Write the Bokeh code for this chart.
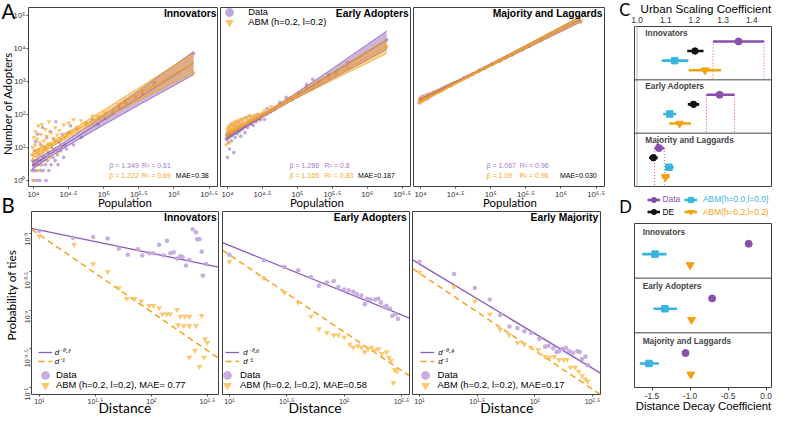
import math
from bokeh.plotting import figure
from bokeh.models import (Range1d, FixedTicker, CustomJSTickFormatter, PrintfTickFormatter,
                          Label, Legend, LegendItem, Span, GridBox)
from bokeh.layouts import row, column
from bokeh.embed import file_html
from bokeh.resources import INLINE

# ===================== DATA =====================
# Panel A: cities (population) and number of adopters
city_population = [9550, 9770, 10000, 10120, 10230, 10470, 10590, 10720, 10960, 11220,
                   11350, 11480, 11750, 12020, 12300, 12590, 12730, 12880, 13180, 13490,
                   13800, 14130, 14450, 14790, 15140, 15490, 15850, 16220, 16600, 17380,
                   17780, 18200, 19050, 19500, 20420, 20890, 21880, 22390, 23440, 24550,
                   25700, 26920, 28180, 29510,
                   31620, 33880, 37150, 41690, 47860, 56230, 69180, 83180,
                   104700, 134900, 166000, 204200, 281800, 354800, 524800, 1905000]
innovators_data = [2, 4, 1, 3, 2, 8, 3, 15, 2, 1, 4, 25, 3, 6, 1, 2, 12, 4, 3, 40, 2, 5, 9, 3, 1,
                   20, 4, 7, 2, 30, 3, 10, 5, 18, 4, 60, 6, 3, 14, 8, 25, 5, 12, 9,
                   28, 45, 12, 35, 20, 55, 70, 50, 75, 105, 160, 230, 340, 420, 900, 6900]
innovators_abm = [6, 10, 1, 20, 4, 3, 12, 30, 8, 5, 18, 2, 45, 9, 14, 3, 25, 6, 50, 11, 7, 16, 4, 35,
                  10, 22, 8, 13, 60, 5, 28, 12, 19, 9, 40, 15, 24, 7, 33, 18, 11, 48, 20, 26,
                  55, 30, 70, 40, 65, 50, 90, 85, 110, 130, 200, 260, 330, 500, 700, 1800]
early_data = [18, 25, 5, 30, 14, 40, 22, 9, 35, 28, 16, 50, 24, 33, 7, 45, 30, 20, 55, 38, 26, 42,
              60, 31, 48, 22, 70, 36, 52, 44, 28, 80, 58, 40, 65, 90, 50, 72, 46, 85, 60, 100, 75, 68,
              95, 70, 150, 120, 160, 230, 330, 280, 450, 800, 1150, 1000, 1600, 1900, 3600, 18000]
early_abm = [12, 22, 35, 18, 40, 30, 45, 14, 38, 50, 33, 24, 55, 42, 36, 48, 29, 60, 40, 52, 35, 65,
             45, 58, 38, 70, 50, 62, 44, 75, 56, 48, 80, 66, 90, 58, 72, 85, 64, 95, 78, 70, 100, 88,
             110, 130, 105, 170, 140, 200, 260, 320, 380, 630, 600, 900, 1300, 1500, 2600, 11000]
majority_data = [220, 300, 250, 330, 240, 310, 260, 350, 270, 290, 360, 280, 340, 300, 390, 320, 300,
                 400, 340, 420, 350, 410, 380, 450, 400, 470, 420, 480, 440, 520, 470, 540, 510, 590,
                 560, 620, 600, 690, 650, 740, 720, 820, 790, 900,
                 950, 1000, 1050, 1300, 1400, 1650, 2200, 2500, 3300, 4100, 5300, 6300, 9200, 11300,
                 17800, 62000]
majority_abm = [250, 270, 230, 300, 260, 280, 320, 290, 310, 270, 340, 300, 320, 350, 310, 370, 330,
                360, 390, 350, 400, 380, 420, 390, 430, 450, 410, 470, 460, 480, 500, 490, 530, 560,
                540, 600, 590, 630, 680, 700, 760, 740, 800, 860,
                920, 980, 1100, 1200, 1450, 1700, 2100, 2600, 3300, 4200, 5200, 6500, 9000, 11800,
                18000, 64000]
# fitted scaling lines (log10 adopters) and confidence half-widths at these populations
fit_population = [9550, 17780, 39810, 100000, 316200, 1905000]
innovators_data_fit = [0.45, 0.82, 1.29, 1.83, 2.50, 3.55]
innovators_data_half = [0.12, 0.08, 0.10, 0.15, 0.22, 0.35]
innovators_abm_fit = [0.75, 1.08, 1.51, 2.00, 2.61, 3.56]
innovators_abm_half = [0.10, 0.07, 0.09, 0.13, 0.19, 0.30]
early_data_fit = [1.28, 1.63, 2.08, 2.59, 3.23, 4.24]
early_data_half = [0.07, 0.04, 0.05, 0.08, 0.15, 0.28]
early_abm_fit = [1.38, 1.70, 2.10, 2.57, 3.15, 4.06]
early_abm_half = [0.06, 0.035, 0.045, 0.07, 0.12, 0.22]
majority_data_fit = [2.41, 2.70, 3.07, 3.50, 4.03, 4.87]
majority_data_half = [0.03, 0.02, 0.025, 0.035, 0.05, 0.08]
majority_abm_fit = [2.38, 2.67, 3.05, 3.49, 4.04, 4.89]
majority_abm_half = [0.03, 0.02, 0.025, 0.035, 0.05, 0.08]
a_titles = ["Innovators", "Early Adopters", "Majority and Laggards"]
beta_data = ["1.349", "1.286", "1.067"]
r2_data = ["0.61", "0.8", "0.96"]
beta_abm = ["1.222", "1.165", "1.09"]
r2_abm = ["0.69", "0.83", "0.96"]
mae_a = ["0.38", "0.187", "0.030"]
a_x_ticks = [4, 4.5, 5, 5.5, 6, 6.5]
a_y_ticks = [0, 1, 2, 3, 4, 5]

# Panel B: probability of ties vs distance (log10 values)
b1_data_logd = [1.00, 1.30, 1.48, 1.61, 1.71, 1.79, 1.88, 1.92, 1.98, 2.02, 2.07, 2.11, 2.14, 2.17,
                2.20, 2.23, 2.26, 2.28, 2.31, 2.34, 2.37, 2.40, 2.41, 2.43, 2.45, 2.46, 2.49]
b1_data_logp = [-2.97, -3.06, -3.05, -3.07, -3.20, -3.28, -3.21, -3.29, -3.26, -3.26, -3.15, -3.29,
                -3.10, -3.26, -3.25, -3.33, -3.30, -3.31, -3.42, -3.35, -2.95, -2.99, -3.08, -3.08,
                -3.24, -3.55, -3.40]
b1_abm_logd = [1.00, 1.31, 1.48, 1.61, 1.71, 1.78, 1.85, 1.91, 1.98, 2.02, 2.07, 2.10, 2.14, 2.17,
               2.23, 2.26, 2.30, 2.34, 2.24, 2.29, 2.34, 2.40, 2.45, 2.48, 2.50, 2.39, 2.34, 2.47, 2.43]
b1_abm_logp = [-3.04, -3.15, -3.40, -3.50, -3.71, -3.85, -3.85, -3.88, -3.94, -3.94, -3.97, -4.05,
               -4.05, -4.05, -3.99, -4.08, -4.08, -4.08, -4.19, -4.20, -4.20, -4.20, -4.07, -4.37,
               -4.42, -4.52, -4.61, -4.61, -4.73]
b2_data_logd = [1.00, 1.30, 1.48, 1.60, 1.71, 1.78, 1.85, 1.91, 1.95, 2.00, 2.04, 2.08, 2.11, 2.15,
                2.18, 2.20, 2.23, 2.27, 2.30, 2.32, 2.35, 2.37, 2.40, 2.42, 2.45, 2.47]
b2_data_logp = [-3.28, -3.35, -3.44, -3.48, -3.57, -3.68, -3.64, -3.62, -3.70, -3.73, -3.74, -3.76,
                -3.79, -3.81, -3.92, -3.85, -3.86, -3.86, -3.85, -3.90, -3.96, -3.94, -3.98, -4.07,
                -4.05, -4.11]
b2_abm_logd = [1.00, 1.30, 1.48, 1.60, 1.71, 1.78, 1.85, 1.91, 1.95, 2.00, 2.05, 2.08, 2.12, 2.15,
               2.18, 2.21, 2.24, 2.27, 2.30, 2.33, 2.37, 2.39, 2.41, 2.44, 2.46, 2.43]
b2_abm_logp = [-3.37, -3.58, -3.77, -3.90, -4.08, -4.24, -4.29, -4.32, -4.32, -4.35, -4.44, -4.48,
               -4.46, -4.48, -4.54, -4.50, -4.48, -4.52, -4.50, -4.56, -4.54, -4.61, -4.65, -4.77,
               -4.79, -4.94]
b3_data_logd = [1.00, 1.30, 1.48, 1.61, 1.70, 1.78, 1.85, 1.91, 1.97, 2.04, 2.09, 2.12, 2.16, 2.19,
                2.21, 2.24, 2.27, 2.30, 2.33, 2.37, 2.39, 2.41, 2.44, 2.46]
b3_data_logp = [-3.37, -3.53, -3.71, -3.86, -4.06, -4.21, -4.23, -4.27, -4.29, -4.37, -4.47, -4.46,
                -4.49, -4.54, -4.53, -4.50, -4.49, -4.53, -4.55, -4.53, -4.54, -4.63, -4.60, -4.71]
b3_abm_logd = [1.00, 1.30, 1.48, 1.61, 1.70, 1.78, 1.85, 1.91, 1.97, 2.03, 2.09, 2.13, 2.17, 2.21,
               2.25, 2.28, 2.31, 2.35, 2.38, 2.41, 2.44, 2.46]
b3_abm_logp = [-3.51, -3.70, -3.88, -4.05, -4.25, -4.32, -4.42, -4.44, -4.48, -4.51, -4.60, -4.61,
               -4.60, -4.64, -4.64, -4.64, -4.74, -4.74, -4.79, -4.85, -4.89, -4.92]
b_titles = ["Innovators", "Early Adopters", "Early Majority"]
b_data_exponent = [-0.3, -0.6, -0.9]
b_data_log_at_10 = [-2.96, -3.16, -3.40]
b_abm_exponent = [-1.0, -1.0, -1.0]
b_abm_log_at_10 = [-3.02, -3.28, -3.52]
b_line_labels = ["d\u207b\u2070\u00b7\u00b3", "d\u207b\u2070\u00b7\u2076", "d\u207b\u2070\u00b7\u2079"]
b_abm_label = "d\u207b\u00b9"
b_abm_legend = ["ABM (h=0.2, l=0.2), MAE= 0.77", "ABM (h=0.2, l=0.2), MAE=0.58",
                "ABM (h=0.2, l=0.2), MAE=0.17"]
b_x_ticks = [1, 1.5, 2, 2.5]
b_y_ticks = [-5, -4.5, -4, -3.5, -3]

# Panel C: urban scaling coefficients (centre, low, high)
groups = ["Innovators", "Early Adopters", "Majority and Laggards"]
c_data = [1.354, 1.288, 1.076]
c_data_lo = [1.265, 1.242, 1.061]
c_data_hi = [1.443, 1.340, 1.095]
c_de = [1.202, 1.197, 1.057]
c_de_lo = [1.175, 1.177, 1.042]
c_de_hi = [1.232, 1.217, 1.072]
c_abm00 = [1.131, 1.114, 1.111]
c_abm00_lo = [1.086, 1.091, 1.097]
c_abm00_hi = [1.179, 1.137, 1.128]
c_abm22 = [1.237, 1.148, 1.099]
c_abm22_lo = [1.180, 1.112, 1.086]
c_abm22_hi = [1.293, 1.188, 1.114]
c_ticks = [1.0, 1.1, 1.2, 1.3, 1.4]

# Panel D: distance decay coefficients
d_data = [-0.23, -0.71, -1.06]
d_data_lo = [-0.26, -0.73, -1.08]
d_data_hi = [-0.20, -0.69, -1.04]
d_abm00 = [-1.46, -1.33, -1.54]
d_abm00_lo = [-1.63, -1.48, -1.66]
d_abm00_hi = [-1.31, -1.17, -1.41]
d_abm22 = [-1.00, -0.98, -0.99]
d_abm22_lo = [-1.03, -1.01, -1.02]
d_abm22_hi = [-0.97, -0.95, -0.96]
d_ticks = [-1.5, -1.0, -0.5, 0.0]

# ===================== STYLE =====================
W, H = 773, 415
SX = W / 789
SY = H / 431
FS = 0.97
PUR_PT, ORA_PT = "#a98bcf", "#fbb13c"
PUR_LINE, ORA_LINE = "#8a5cb8", "#f5a21e"
PUR_TXT, ORA_TXT = "#a07ccb", "#f7a51f"
B_PUR_PT, B_ORA_PT = "#c3a5df", "#fdc25e"
C_PUR, C_CYAN, C_ORA, C_BLK, DOT = "#8a4fae", "#38b4df", "#f5a10f", "#111111", "#cf4b7e"
FRAME = "#404040"
TICK_TXT = "#333333"
SANS = "Liberation Sans"
HUM = "Lato"

SUP_JS = r"""
const m = {"0": "\u2070", "1": "\u00b9", "2": "\u00b2", "3": "\u00b3", "4": "\u2074",
           "5": "\u2075", "6": "\u2076", "7": "\u2077", "8": "\u2078", "9": "\u2079",
           "-": "\u207b", ".": "\u00b7"};
const e = Math.round(Math.log10(tick) * 2) / 2;
let s = "";
for (const c of String(e)) { s += m[c]; }
return "10" + s;
"""


def make_panel(canvas, frame, xr, yr, xtype="linear", ytype="linear", xloc="below", yloc="left"):
    cl, ct, cr, cb = canvas
    fl, ft, fr, fb = frame
    L, T, R, B = round(cl * SX), round(ct * SY), round(cr * SX), round(cb * SY)
    FL, FT, FR, FB = round(fl * SX), round(ft * SY), round(fr * SX), round(fb * SY)
    p = figure(width=R - L, height=B - T, x_range=Range1d(*xr), y_range=Range1d(*yr),
               x_axis_type=xtype, y_axis_type=ytype, x_axis_location=xloc, y_axis_location=yloc,
               output_backend="svg", toolbar_location=None, min_border=0,
               min_border_left=FL - L, min_border_right=R - FR,
               min_border_top=FT - T, min_border_bottom=B - FB)
    p.grid.visible = False
    p.outline_line_color = FRAME
    p.outline_line_width = 1
    p.border_fill_color = "white"
    p.background_fill_color = "white"
    return p


def style_axis(ax, size, tick_out=2, standoff=1):
    ax.axis_line_color = None
    ax.major_tick_out = tick_out
    ax.major_tick_in = 0
    ax.major_tick_line_color = "#4d4d4d"
    ax.minor_tick_line_color = None
    ax.major_label_text_font = SANS
    ax.major_label_text_font_size = f"{size:.1f}px"
    ax.major_label_text_color = TICK_TXT
    ax.major_label_standoff = standoff


def log_axis(ax, exps, size):
    ax.ticker = FixedTicker(ticks=[10 ** e for e in exps])
    ax.formatter = CustomJSTickFormatter(code=SUP_JS)
    style_axis(ax, size)


# transparent overlay that carries every free-standing text and legend key
ov = figure(width=W, height=H, x_range=Range1d(0, W), y_range=Range1d(0, H),
            x_axis_location=None, y_axis_location=None, output_backend="svg",
            toolbar_location=None, min_border=0)
ov.grid.visible = False
ov.outline_line_color = None
ov.background_fill_alpha = 0
ov.border_fill_alpha = 0


def add_text(rx, ry, text, size, color="#000000", font=SANS, style="normal", align="left",
             angle=0.0):
    ov.add_layout(Label(x=rx * SX, y=H - ry * SY, x_units="screen", y_units="screen", text=text,
                        text_font=font, text_font_size=f"{size * FS:.1f}px",
                        text_font_style=style, text_color=color, text_align=align,
                        text_baseline="middle", angle=angle))


def add_key(renderers, label, cx, cy, gw, gh, size, color="#000000", style="normal",
            standoff=2, font=SANS):
    leg = Legend(items=[LegendItem(label=label, renderers=renderers)],
                 location=(cx * SX - gw / 2, H - cy * SY - gh / 2), orientation="vertical",
                 glyph_width=gw, glyph_height=gh, label_height=gh, label_width=10,
                 spacing=0, padding=0, margin=0, label_standoff=standoff,
                 label_text_font=font, label_text_font_size=f"{size * FS:.1f}px",
                 label_text_font_style=style, label_text_color=color,
                 border_line_color=None, background_fill_alpha=0,
                 inactive_fill_alpha=0)
    ov.add_layout(leg)


# hidden copies of the series, used only to draw the legend keys on the overlay
def key_scatter(xs, ys_, marker, color, alpha=1.0, line=None):
    return ov.scatter(x=xs, y=ys_, marker=marker, size=6, fill_color=color, fill_alpha=alpha,
                      line_color=line, visible=False)


# ===================== PANEL A =====================
A_canvas = [(0, 0, 223.5, 214), (223.5, 0, 420, 214), (420, 0, 631, 214)]
A_frame = [(29, 7, 222, 193), (225, 7, 418, 193), (422, 7, 616, 193)]
A_xlim = [(3.93, 6.62), (3.90, 6.62), (3.90, 6.62)]
A_ylim = (-0.18, 5.23)
a_series = [
    (innovators_data, innovators_abm, innovators_data_fit, innovators_data_half,
     innovators_abm_fit, innovators_abm_half),
    (early_data, early_abm, early_data_fit, early_data_half, early_abm_fit, early_abm_half),
    (majority_data, majority_abm, majority_data_fit, majority_data_half,
     majority_abm_fit, majority_abm_half),
]
a_title_right = [220.5, 417, 614.5]
a_beta_x = [111, 295, 496]
a_r2_x = [144.3, 330.7, 530]
a_mae_x = [179, 365, 571]
a_pop_x = [127, 323, 520]

a_figs = []
for i in range(3):
    p = make_panel(A_canvas[i], A_frame[i], tuple(10 ** v for v in A_xlim[i]),
                   tuple(10 ** v for v in A_ylim), "log", "log",
                   yloc="left" if i == 0 else None)
    log_axis(p.xaxis[0], a_x_ticks, 7.8)
    if i == 0:
        log_axis(p.yaxis[0], a_y_ticks, 7.8)
    d, a, dfit, dhalf, afit, ahalf = a_series[i]
    p.scatter(x=city_population, y=d, marker="circle", size=3.6, fill_color=PUR_PT,
              line_color=None, fill_alpha=0.75)
    p.scatter(x=city_population, y=a, marker="inverted_triangle", size=4.8,
              fill_color=ORA_PT, line_color=None, fill_alpha=0.75)
    for fit, half, col, alpha in ((dfit, dhalf, PUR_LINE, 0.45), (afit, ahalf, ORA_LINE, 0.45)):
        lo = [10 ** (f - h) for f, h in zip(fit, half)]
        hi = [10 ** (f + h) for f, h in zip(fit, half)]
        mid = [10 ** f for f in fit]
        p.varea(x=fit_population, y1=lo, y2=hi, fill_color=col, fill_alpha=alpha)
        p.line(fit_population, lo, line_color=col, line_width=0.8)
        p.line(fit_population, hi, line_color=col, line_width=0.8)
        p.line(fit_population, mid, line_color=col, line_width=1)
    add_text(a_title_right[i], 13.3, a_titles[i], 10.6, style="bold", align="right")
    add_text(a_beta_x[i], 171.7, "\u03b2 = " + beta_data[i], 7.2, color=PUR_TXT)
    add_text(a_r2_x[i], 171.7, "R\u00b2 = " + r2_data[i], 7.2, color=PUR_TXT)
    add_text(a_beta_x[i], 181.7, "\u03b2 = " + beta_abm[i], 7.2, color=ORA_TXT)
    add_text(a_r2_x[i], 181.7, "R\u00b2 = " + r2_abm[i], 7.2, color=ORA_TXT)
    add_text(a_mae_x[i], 181.7, "MAE=" + mae_a[i], 7.2)
    add_text(a_pop_x[i], 209.5, "Population", 11.8, font=HUM, align="center")
    a_figs.append(p)

add_text(1, 11, "A", 21, font=HUM)
add_text(7.5, 107, "Number of Adopters", 11.8, font=HUM, align="center", angle=math.pi / 2)
ka_d = key_scatter(city_population, early_data, "circle", PUR_PT, 0.75)
ka_a = key_scatter(city_population, early_abm, "inverted_triangle", ORA_PT, 0.75)
add_key([ka_d], "Data", 234, 12, 22, 22, 9.6, standoff=8)
add_key([ka_a], "ABM (h=0.2, l=0.2)", 234, 23, 22, 22, 9.6, standoff=8)

# ===================== PANEL B =====================
B_canvas = [(0, 214, 225, 431), (225, 214, 419, 431), (419, 214, 631, 431)]
B_frame = [(32, 219, 223, 409), (227, 219, 417, 409), (421, 219, 612, 409)]
B_xlim = [(0.93, 2.60), (0.94, 2.57), (0.94, 2.57)]
B_ylim = (-5.09, -2.72)
b_series = [(b1_data_logd, b1_data_logp, b1_abm_logd, b1_abm_logp),
            (b2_data_logd, b2_data_logp, b2_abm_logd, b2_abm_logp),
            (b3_data_logd, b3_data_logp, b3_abm_logd, b3_abm_logp)]
b_title_right = [220.7, 415, 610]
b_dist_x = [127, 321, 516.7]
b_line_cx = [45.8, 237, 436]
b_line_standoff = [3, 4, 4]
b_mark_cx = [46, 231.7, 433.3]
b_mark_standoff = [0, 2, 2]

kb_dl = ov.line(x=b1_data_logd, y=b1_data_logp, line_color=PUR_LINE, line_width=1.3,
                visible=False)
kb_al = ov.line(x=b1_abm_logd, y=b1_abm_logp, line_color=ORA_LINE, line_width=1.5,
                line_dash="6 4", visible=False)
kb_dp = key_scatter(b1_data_logd, b1_data_logp, "circle", B_PUR_PT, 0.9)
kb_ap = key_scatter(b1_abm_logd, b1_abm_logp, "inverted_triangle", B_ORA_PT, 0.9)

b_figs = []
for i in range(3):
    p = make_panel(B_canvas[i], B_frame[i], tuple(10 ** v for v in B_xlim[i]),
                   tuple(10 ** v for v in B_ylim), "log", "log",
                   yloc="left" if i == 0 else None)
    log_axis(p.xaxis[0], b_x_ticks, 7.1)
    if i == 0:
        log_axis(p.yaxis[0], b_y_ticks, 7.1)
        p.yaxis[0].major_label_orientation = math.pi / 2
    dx, dy, ax_, ay = b_series[i]
    xs = [10 ** v for v in B_xlim[i]]
    p.line(xs, [10 ** (b_data_log_at_10[i] + b_data_exponent[i] * (math.log10(x) - 1)) for x in xs],
           line_color=PUR_LINE, line_width=1.3)
    p.line(xs, [10 ** (b_abm_log_at_10[i] + b_abm_exponent[i] * (math.log10(x) - 1)) for x in xs],
           line_color=ORA_LINE, line_width=1.5, line_dash="6 4")
    p.scatter(x=[10 ** v for v in dx], y=[10 ** v for v in dy], marker="circle", size=4.6,
              fill_color=B_PUR_PT, line_color=None, fill_alpha=0.9)
    p.scatter(x=[10 ** v for v in ax_], y=[10 ** v for v in ay], marker="inverted_triangle",
              size=5.8, fill_color=B_ORA_PT, line_color=None, fill_alpha=0.9)
    add_text(b_title_right[i], 225, b_titles[i], 10.6, style="bold", align="right")
    add_text(b_dist_x[i], 423, "Distance", 14.2, font=HUM, align="center")
    add_key([kb_dl], b_line_labels[i], b_line_cx[i], 366.2, 14, 8, 8.0, style="italic",
            standoff=b_line_standoff[i])
    add_key([kb_al], b_abm_label, b_line_cx[i], 375.5, 14, 8, 8.0, style="italic",
            standoff=b_line_standoff[i])
    add_key([kb_dp], "Data", b_mark_cx[i], 389.3, 22, 22, 10, standoff=b_mark_standoff[i])
    add_key([kb_ap], b_abm_legend[i], b_mark_cx[i], 400, 22, 22, 9.6, standoff=b_mark_standoff[i])
    b_figs.append(p)

add_text(1, 212, "B", 21, font=HUM)
add_text(11.5, 306, "Probability of ties", 12.2, font=HUM, align="center", angle=math.pi / 2)

# ===================== PANEL C =====================
pc = make_panel((631, 0, 789, 200), (647, 27, 787, 193), (0.991, 1.469), (0, 3),
                xloc="above", yloc=None)
axc = pc.xaxis[0]
axc.ticker = FixedTicker(ticks=c_ticks)
axc.formatter = PrintfTickFormatter(format="%.1f")
style_axis(axc, 8.4, tick_out=0, standoff=4)
pc.add_layout(Span(location=1.0, dimension="height", line_color="#d9d9d9", line_width=2))
pc.add_layout(Span(location=1, dimension="width", line_color=FRAME, line_width=1))
pc.add_layout(Span(location=2, dimension="width", line_color=FRAME, line_width=1))

c_rows = {"data": 0.28, "de": 0.46, "abm00": 0.64, "abm22": 0.82}
ys = {k: [3 - f - v for f in range(3)] for k, v in c_rows.items()}
pc.segment(x0=c_data_lo + c_data_hi, y0=ys["data"] * 2, x1=c_data_lo + c_data_hi,
           y1=[3 - f - 1 for f in range(3)] * 2, line_color=DOT, line_width=1, line_dash="1 2")
c_spec = [(c_data, c_data_lo, c_data_hi, "data", C_PUR, "circle", 7),
          (c_de, c_de_lo, c_de_hi, "de", C_BLK, "circle", 6.5),
          (c_abm00, c_abm00_lo, c_abm00_hi, "abm00", C_CYAN, "square", 6.5),
          (c_abm22, c_abm22_lo, c_abm22_hi, "abm22", C_ORA, "inverted_triangle", 8)]
for mid, lo, hi, key, col, mk, sz in c_spec:
    pc.segment(x0=lo, y0=ys[key], x1=hi, y1=ys[key], line_color=col, line_width=2.6)
    pc.scatter(x=mid, y=ys[key], marker=mk, size=sz, fill_color=col, line_color=col)
for f in range(3):
    pc.add_layout(Label(x=(658 - 647) * SX, y=3 - f - 0.12, x_units="screen", y_units="data",
                        text=groups[f], text_font=SANS, text_font_style="bold",
                        text_font_size=f"{8.6 * FS:.1f}px", text_baseline="middle"))
add_text(631.5, 10, "C", 17, font=HUM)
add_text(720, 8, "Urban Scaling Coefficient", 12, align="center")

# ===================== PANEL D =====================
pd_ = make_panel((631, 200, 789, 431), (645, 232, 787, 402), (-1.73, 0.07), (0, 3), yloc=None)
axd = pd_.xaxis[0]
axd.ticker = FixedTicker(ticks=d_ticks)
axd.formatter = PrintfTickFormatter(format="%.1f")
style_axis(axd, 8.4, tick_out=3, standoff=2)
pd_.add_layout(Span(location=1, dimension="width", line_color=FRAME, line_width=1))
pd_.add_layout(Span(location=2, dimension="width", line_color=FRAME, line_width=1))
d_rows = {"data": 0.37, "abm00": 0.56, "abm22": 0.76}
dys = {k: [3 - f - v for f in range(3)] for k, v in d_rows.items()}
d_spec = [(d_data, d_data_lo, d_data_hi, "data", C_PUR, "circle", 7),
          (d_abm00, d_abm00_lo, d_abm00_hi, "abm00", C_CYAN, "square", 6.5),
          (d_abm22, d_abm22_lo, d_abm22_hi, "abm22", C_ORA, "inverted_triangle", 8)]
for mid, lo, hi, key, col, mk, sz in d_spec:
    pd_.segment(x0=lo, y0=dys[key], x1=hi, y1=dys[key], line_color=col, line_width=2.6)
    pd_.scatter(x=mid, y=dys[key], marker=mk, size=sz, fill_color=col, line_color=col)
for f in range(3):
    pd_.add_layout(Label(x=(653.3 - 645) * SX, y=3 - f - 0.15, x_units="screen", y_units="data",
                         text=groups[f], text_font=SANS, text_font_style="bold",
                         text_font_size=f"{8.6 * FS:.1f}px", text_baseline="middle"))
add_text(631.5, 214, "D", 17, font=HUM)
add_text(717.5, 421, "Distance Decay Coefficient", 11.6, align="center")

# shared legend of panels C and D
key_spec = [("Data", C_PUR, "circle", 667.5, 207, 2, c_data, c_data_lo, c_data_hi),
            ("DE", C_BLK, "circle", 667.5, 220, 2, c_de, c_de_lo, c_de_hi),
            ("ABM(h=0.0,l=0.0)", C_CYAN, "square", 704.8, 207, 6, c_abm00, c_abm00_lo, c_abm00_hi),
            ("ABM(h=0.2,l=0.2)", C_ORA, "inverted_triangle", 704.8, 220, 6, c_abm22, c_abm22_lo,
             c_abm22_hi)]
for lab, col, mk, cx, cy, so, mid, lo, hi in key_spec:
    gs = ov.segment(x0=lo, y0=mid, x1=hi, y1=mid, line_color=col, line_width=2.6, visible=False)
    gm = key_scatter(mid, mid, mk, col, 1.0, col)
    add_key([gs, gm], lab, cx, cy, 13, 15, 8.7, color=col if lab != "DE" else "#000000",
            standoff=so)

# ===================== LAYOUT =====================
left_block = column(row(*a_figs, spacing=0), row(*b_figs, spacing=0), spacing=0)
right_block = column(pc, pd_, spacing=0)
layout = GridBox(children=[(left_block, 0, 0), (right_block, 0, 1), (ov, 0, 0, 1, 2)], spacing=0)

with open("out.html", "w") as fh:
    fh.write(file_html(layout, INLINE))
